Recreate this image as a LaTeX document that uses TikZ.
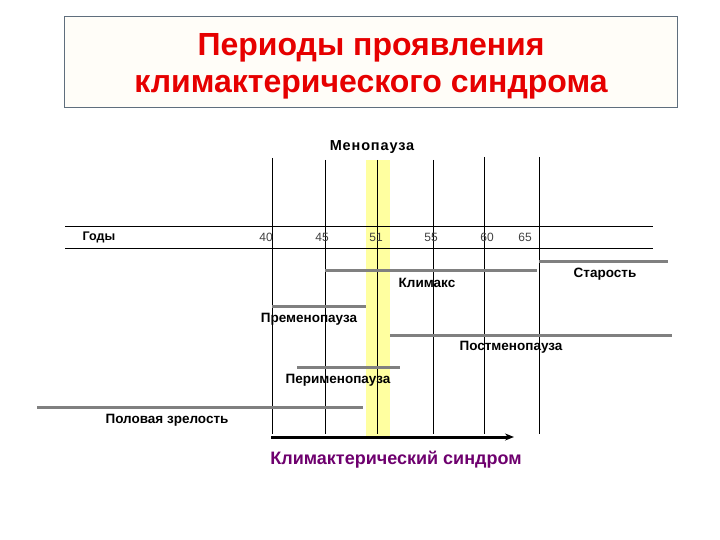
\documentclass[tikz,border=0pt]{standalone}
\usepackage{fontspec}
\setmainfont{Liberation Sans}
\usetikzlibrary{arrows.meta}
\definecolor{titlered}{RGB}{230,0,0}
\definecolor{boxedge}{RGB}{95,110,125}
\definecolor{boxfill}{RGB}{255,253,248}
\definecolor{bargray}{RGB}{128,128,128}
\definecolor{band}{RGB}{255,255,160}
\definecolor{synd}{RGB}{110,0,110}
\tikzset{
  bar/.style={bargray, line width=3pt},
  vline/.style={black, line width=0.8pt},
  hline/.style={black, line width=0.8pt},
  lbl/.style={font=\fontsize{13.5}{15}\selectfont\bfseries, inner sep=0pt},
  yr/.style={font=\fontsize{12}{14}\selectfont, text=black!75, inner sep=0pt},
  ttl/.style={text=titlered, font=\fontsize{32}{38}\selectfont\bfseries, inner sep=0pt, anchor=base},
}
\begin{document}
\begin{tikzpicture}[x=1pt,y=-1pt]
\useasboundingbox (0,0) rectangle (720,540);
% title
\node[draw=boxedge, fill=boxfill, line width=0.8pt, minimum width=613pt, minimum height=91pt, inner sep=0pt] (titlebox) at (370.5,61.5) {};
\node[ttl] (title1) at (371,56) {Периоды проявления};
\node[ttl] (title2) at (371,93) {климактерического синдрома};
% yellow band
\fill[band] (366,160) rectangle (390,436);
% table lines
\draw[hline] (65,226) -- (653,226);
\draw[hline] (65,248) -- (653,248);
% vertical lines
\foreach \x/\t in {272/158,325/160,377/160,433/160,484/157,539/157}
  \draw[vline] (\x,\t) -- (\x,434);
% labels
\node[inner sep=0pt, font=\fontsize{14.5}{16}\selectfont\bfseries\addfontfeature{LetterSpace=6}] (meno) at (372,147) {Менопауза};
\node[lbl, font=\fontsize{12.5}{14}\selectfont\bfseries] (years) at (99,237) {Годы};
\node[yr] (y40) at (266,237) {40};
\node[yr] (y45) at (322,237) {45};
\node[yr] (y51) at (376,237) {51};
\node[yr] (y55) at (431,237) {55};
\node[yr] (y60) at (487,237) {60};
\node[yr] (y65) at (525,237) {65};
% bars
\draw[bar] (325,270) -- (537,270);
\draw[bar] (539,261) -- (668,261);
\draw[bar] (272,306) -- (366,306);
\draw[bar] (390,335) -- (672,335);
\draw[bar] (297,367) -- (400,367);
\draw[bar] (37,407) -- (363,407);
\node[lbl] (klim) at (427,283) {Климакс};
\node[lbl] (star) at (605,274) {Старость};
\node[lbl] (prem) at (309,319) {Пременопауза};
\node[lbl] (postm) at (511,347) {Постменопауза};
\node[lbl] (perim) at (338,380) {Перименопауза};
\node[lbl] (polz) at (167,420) {Половая зрелость};
% arrow
\coordinate (as) at (271,437);
\coordinate (ae) at (514,437);
\draw[line width=3pt, -{Stealth[length=9pt,width=7pt]}] (as) -- (ae);
\node[text=synd, font=\fontsize{18}{20}\selectfont\bfseries, inner sep=0pt, anchor=base] (syn) at (396,464) {Климактерический синдром};
\end{tikzpicture}
\end{document}
